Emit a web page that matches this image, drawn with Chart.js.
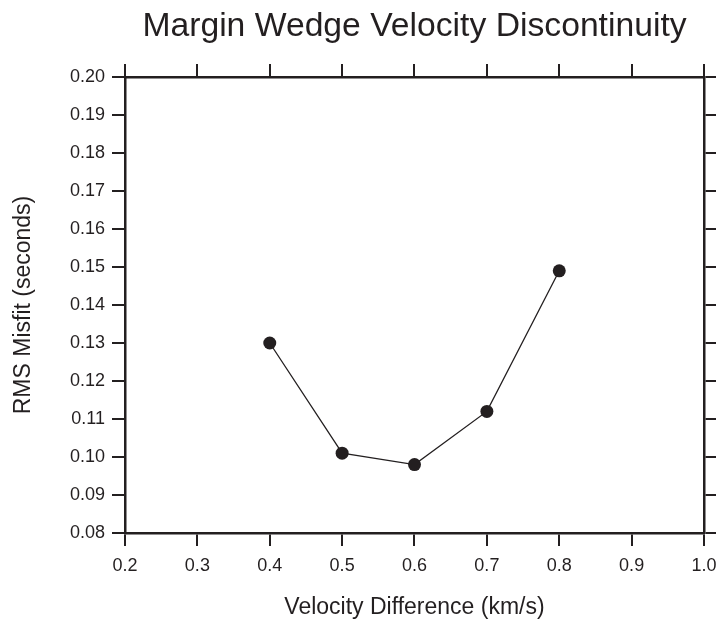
<!DOCTYPE html>
<html lang="en">
<head>
<meta charset="UTF-8" />
<title>Margin Wedge Velocity Discontinuity</title>
<script src="https://cdn.jsdelivr.net/npm/chart.js"></script>
<style>
  html, body { margin: 0; padding: 0; background: #fff; }
  canvas { display: block; }
</style>
</head>
<body>
<canvas id="chart" width="716" height="621"></canvas>
<script>
  // data
  const velocityDiff = [0.4, 0.5, 0.6, 0.7, 0.8];
  const rmsMisfit = [0.130, 0.101, 0.098, 0.112, 0.149];

  const ink = '#231f20';
  const fontFamily = '"Liberation Sans", Arial, Helvetica, sans-serif';

  // plot frame edges in the reference (px)
  const frame = { left: 125, right: 704, top: 77, bottom: 533 };
  const titleSize = 33.7;
  const titlePad = { top: 6, bottom: 10 };

  const gridOpts = {
    drawOnChartArea: false,
    drawTicks: true,
    tickLength: 13,
    tickWidth: 2,
    color: ink,
    lineWidth: 2
  };
  const borderOpts = { display: true, color: ink, width: 2.5 };

  // keep the frame where it is: drop the label overhang padding
  function noOverhang(s) {
    s.paddingLeft = 0; s.paddingRight = 0;
    s.paddingTop = 0; s.paddingBottom = 0;
  }

  new Chart(document.getElementById('chart'), {
    type: 'scatter',
    data: {
      datasets: [{
        data: velocityDiff.map((v, i) => ({ x: v, y: rmsMisfit[i] })),
        showLine: true,
        borderColor: ink,
        borderWidth: 1.3,
        pointRadius: 6.5,
        pointBackgroundColor: ink,
        pointBorderColor: ink,
        pointBorderWidth: 0
      }]
    },
    options: {
      responsive: false,
      animation: false,
      layout: { padding: 0 },
      plugins: {
        legend: { display: false },
        tooltip: { enabled: false },
        title: {
          display: true,
          fullSize: false,
          text: 'Margin Wedge Velocity Discontinuity',
          color: ink,
          font: { family: fontFamily, size: titleSize, weight: 'normal' },
          padding: titlePad
        }
      },
      scales: {
        x: {
          type: 'linear', position: 'bottom', min: 0.2, max: 1.0,
          grid: gridOpts, border: borderOpts,
          ticks: {
            stepSize: 0.1, padding: 9, color: ink,
            font: { family: fontFamily, size: 18 },
            callback: v => v.toFixed(1)
          },
          title: {
            display: true, text: 'Velocity Difference (km/s)', color: ink,
            font: { family: fontFamily, size: 23 }, padding: { top: 14, bottom: 0 }
          },
          afterFit: s => { s.height = 621 - frame.bottom; noOverhang(s); }
        },
        x2: {
          type: 'linear', position: 'top', min: 0.2, max: 1.0,
          grid: gridOpts, border: borderOpts,
          ticks: { stepSize: 0.1, display: false },
          afterFit: s => {
            s.height = frame.top - (titleSize * 1.2 + titlePad.top + titlePad.bottom);
            noOverhang(s);
          }
        },
        y: {
          type: 'linear', position: 'left', min: 0.08, max: 0.20,
          grid: gridOpts, border: borderOpts,
          ticks: {
            stepSize: 0.01, padding: 7, color: ink,
            font: { family: fontFamily, size: 18 },
            callback: v => v.toFixed(2)
          },
          title: {
            display: true, text: 'RMS Misfit (seconds)', color: ink,
            font: { family: fontFamily, size: 23 }, padding: { top: 10, bottom: 10 }
          },
          afterFit: s => { s.width = frame.left; noOverhang(s); }
        },
        y2: {
          type: 'linear', position: 'right', min: 0.08, max: 0.20,
          grid: gridOpts, border: borderOpts,
          ticks: { stepSize: 0.01, display: false },
          afterFit: s => { s.width = 716 - frame.right; noOverhang(s); }
        }
      }
    },
    plugins: [{
      id: 'whiteBg',
      beforeDraw: c => {
        const ctx = c.ctx;
        ctx.save();
        ctx.fillStyle = '#fff';
        ctx.fillRect(0, 0, c.width, c.height);
        ctx.restore();
      }
    }]
  });
</script>
</body>
</html>
